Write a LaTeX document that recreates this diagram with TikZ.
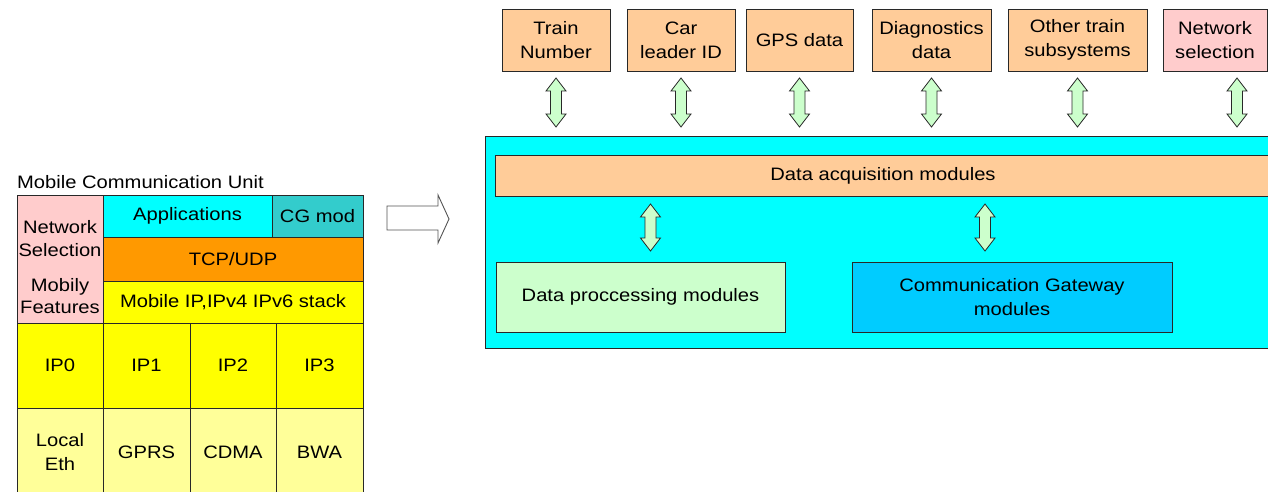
\documentclass[tikz,border=0pt]{standalone}
\usepackage{fontspec}
\setmainfont[FakeStretch=1.12]{Liberation Sans}
\usetikzlibrary{calc,positioning}
\definecolor{cyanbg}{RGB}{0,255,255}
\definecolor{cgteal}{RGB}{51,204,204}
\definecolor{tcporange}{RGB}{255,153,0}
\definecolor{ipyellow}{RGB}{255,255,0}
\definecolor{lightyellow}{RGB}{255,255,153}
\definecolor{pinkbox}{RGB}{255,204,204}
\definecolor{peach}{RGB}{255,204,153}
\definecolor{palegreen}{RGB}{204,255,204}
\definecolor{gwblue}{RGB}{0,204,255}
\definecolor{edge}{RGB}{40,40,40}
\tikzset{
	box/.style={draw=edge, line width=0.9pt, inner sep=0pt, outer sep=0pt,
		anchor=north west, align=center},
	boxsize/.style 2 args={minimum width=#1, minimum height=#2},
	fatar/.style={draw=edge, line width=0.8pt, fill=palegreen, line join=miter},
	hollow/.style={draw=edge!80, line width=0.9pt, fill=white, line join=miter},
	every node/.style={font=\fontsize{18}{24}\selectfont, align=center}
}
% vertical double arrow between two points (top tip, bottom tip)
\newcommand{\updown}[2]{%
	\draw[fatar] let \p1=(#1), \p2=(#2) in
		(\x1,\y1) -- (\x1+10pt,\y1-13pt) -- (\x1+5.5pt,\y1-13pt) -- (\x1+5.5pt,\y2+13pt)
		-- (\x1+10pt,\y2+13pt) -- (\x1,\y2) -- (\x1-10pt,\y2+13pt) -- (\x1-5.5pt,\y2+13pt)
		-- (\x1-5.5pt,\y1-13pt) -- (\x1-10pt,\y1-13pt) -- cycle;}

\begin{document}
\begin{tikzpicture}[x=1pt,y=-1pt]
	\useasboundingbox (0,0) rectangle (1268,492);
	\clip (0,0) rectangle (1268,492);

	% mobile communication unit stack
	\node[anchor=west, inner sep=0pt] (mcutitle) at (17,182) {Mobile Communication Unit};
	\node[box, fill=pinkbox, boxsize={86pt}{128pt}] (mobsel) at (17,195) {};
	\node[inner sep=0pt] (netseltxt) at (60,239) {Network\\[-1pt]Selection};
	\node[inner sep=0pt] (mobtxt) at (60,296) {Mobily\\[-2pt]Features};
	\node[box, fill=cyanbg, boxsize={169pt}{42pt}] (apps) at (103,195) {Applications};
	\node[box, fill=cgteal, boxsize={91pt}{42pt}, right=0pt of apps.north east, anchor=north west] (cgmod) {CG mod};
	\node[box, fill=tcporange, boxsize={260pt}{44pt}, below=0pt of apps.south west, anchor=north west] (tcp) {TCP/UDP};
	\node[box, fill=ipyellow, boxsize={260pt}{42pt}, below=0pt of tcp.south west, anchor=north west] (mip) {Mobile IP,IPv4 IPv6 stack};
	\node[box, fill=ipyellow, boxsize={86pt}{85pt}] (ip0) at (17,323) {IP0};
	\node[box, fill=ipyellow, boxsize={87pt}{85pt}] (ip1) at (103,323) {IP1};
	\node[box, fill=ipyellow, boxsize={86pt}{85pt}] (ip2) at (190,323) {IP2};
	\node[box, fill=ipyellow, boxsize={87pt}{85pt}] (ip3) at (276,323) {IP3};
	\node[box, fill=lightyellow, boxsize={86pt}{88pt}] (eth) at (17,408) {Local\\Eth};
	\node[box, fill=lightyellow, boxsize={87pt}{88pt}] (gprs) at (103,408) {GPRS};
	\node[box, fill=lightyellow, boxsize={86pt}{88pt}] (cdma) at (190,408) {CDMA};
	\node[box, fill=lightyellow, boxsize={87pt}{88pt}] (bwa) at (276,408) {BWA};

	% big arrow
	\draw[hollow] (387,206) -- (438,206) -- (438,195) -- (449,219) -- (438,243)
		-- (438,230) -- (387,230) -- cycle;

	% data sources
	\node[box, fill=peach, boxsize={108pt}{62pt}] (trainno) at (502,9) {Train\\Number};
	\node[box, fill=peach, boxsize={108pt}{62pt}] (carid) at (627,9) {Car\\leader ID};
	\node[box, fill=peach, boxsize={107pt}{62pt}] (gps) at (746,9) {GPS data};
	\node[box, fill=peach, boxsize={119pt}{62pt}] (diag) at (872,9) {Diagnostics\\data};
	\node[box, fill=peach, boxsize={139pt}{62pt}] (othersys) at (1008,9) {Other train\\subsystems};
	\node[box, fill=pinkbox, boxsize={104pt}{62pt}] (netsel) at (1163,9) {Network\\selection};

	% on-board unit
	\node[box, fill=cyanbg, boxsize={800pt}{212pt}] (unit) at (485,136) {};
	\node[box, fill=peach, boxsize={776pt}{41pt}] (acq) at (495,155) {Data acquisition modules};
	\node[box, fill=palegreen, boxsize={289pt}{70pt}] (proc) at (496,262) {Data proccessing modules};
	\node[box, fill=gwblue, boxsize={320pt}{70pt}] (gate) at (852,262) {Communication Gateway\\modules};

	\foreach \src in {trainno,carid,gps,diag,othersys}
		\updown{$(\src.south)+(0,7)$}{$(\src.south |- unit.north)+(0,-9)$};
	\updown{$(netsel.south)+(22,7)$}{$(netsel.south |- unit.north)+(22,-9)$}
	\updown{$(proc.north |- acq.south)+(10,8)$}{$(proc.north)+(10,-11)$}
	\updown{$(gate.north |- acq.south)+(-27,8)$}{$(gate.north)+(-27,-11)$}
\end{tikzpicture}
\end{document}
